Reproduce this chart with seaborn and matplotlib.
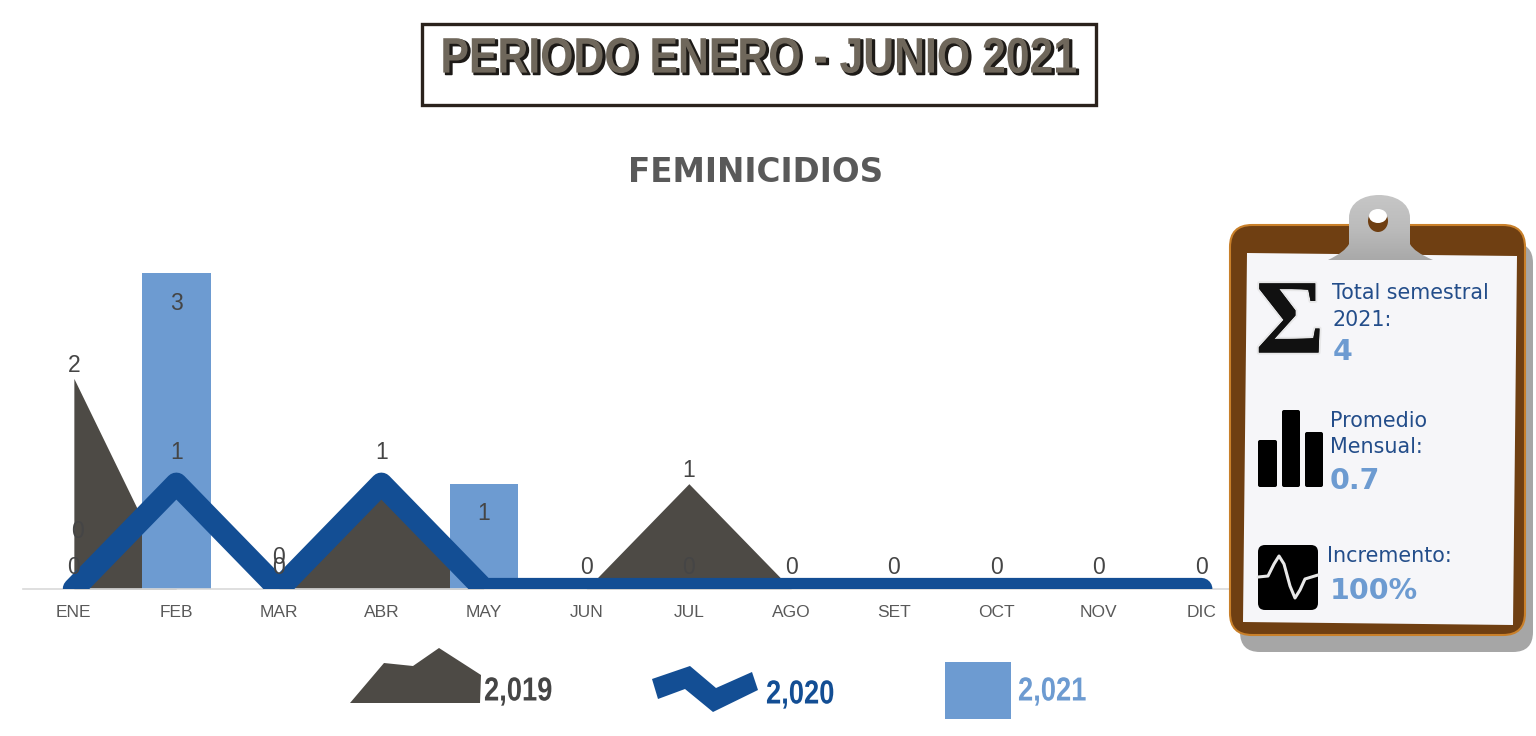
import numpy as np
import pandas as pd
import matplotlib
matplotlib.use('Agg')
import matplotlib.pyplot as plt
import matplotlib.patheffects as pe
from matplotlib.patches import FancyBboxPatch, Polygon, Rectangle, Ellipse, PathPatch
from matplotlib.path import Path
from matplotlib.transforms import Affine2D
from matplotlib.colors import LinearSegmentedColormap, to_rgba
import seaborn as sns

months = ['ENE', 'FEB', 'MAR', 'ABR', 'MAY', 'JUN', 'JUL', 'AGO', 'SET', 'OCT', 'NOV', 'DIC']
values_2019 = [2, 0, 0, 1, 0, 0, 1, 0, 0, 0, 0, 0]
values_2020 = [0, 1, 0, 1, 0, 0, 0, 0, 0, 0, 0, 0]
values_2021 = [0, 3, 0, 0, 1, 0, 0, 0, 0, 0, 0, 0]
legend_labels = ['2,019', '2,020', '2,021']

C_AREA = '#4d4a45'
C_LINE = '#134e94'
C_BAR = '#6d9bd1'
C_LABEL = '#454545'
C_TICK = '#595959'
W, H = 1536, 736


class HScale(pe.AbstractPathEffect):
    """Squeeze text sideways around a pixel x, the reference uses condensed type."""

    def __init__(self, x0, sx, offset=(0, 0)):
        super().__init__(offset)
        self.x0 = x0
        self.sx = sx

    def _transform(self, affine):
        squeeze = Affine2D().translate(-self.x0, 0).scale(self.sx, 1).translate(self.x0, 0)
        return affine + squeeze + Affine2D().translate(*self._offset)

    def draw_path(self, renderer, gc, tpath, affine, rgbFace=None):
        renderer.draw_path(gc, tpath, self._transform(affine), rgbFace)


class HScaleStroke(HScale):
    def __init__(self, x0, sx, offset, linewidth, foreground):
        super().__init__(x0, sx, offset)
        self.linewidth = linewidth
        self.foreground = foreground

    def draw_path(self, renderer, gc, tpath, affine, rgbFace=None):
        gc0 = renderer.new_gc()
        gc0.copy_properties(gc)
        gc0.set_linewidth(self.linewidth)
        gc0.set_foreground(self.foreground)
        renderer.draw_path(gc0, tpath, self._transform(affine), to_rgba(self.foreground))
        gc0.restore()


sns.set_theme(style='white')
plt.rcParams['font.family'] = ['Liberation Sans', 'DejaVu Sans']

fig = plt.figure(figsize=(W / 100, H / 100), dpi=100, facecolor='white')

# main chart, placed in pixels: baseline at y=589, 105 px per unit
ax = fig.add_axes([22.6 / W, (H - 589) / H, 1230 / W, 337 / H])
df = pd.DataFrame({'mes': months, 'a2019': values_2019, 'a2020': values_2020, 'a2021': values_2021})
pos = np.arange(len(months))

ax.fill_between(pos, df['a2019'], 0, color=C_AREA, linewidth=0, zorder=1)
sns.barplot(data=df, x='mes', y='a2021', color=C_BAR, width=0.67, saturation=1,
            errorbar=None, linewidth=0, ax=ax, zorder=2)
sns.lineplot(x=pos, y=df['a2020'], color=C_LINE, linewidth=16, sort=False, errorbar=None,
             solid_capstyle='round', solid_joinstyle='round', ax=ax, zorder=3)

ax.set_xlim(-0.5, 11.5)
ax.set_ylim(0, 3.2)
ax.set_xlabel('')
ax.set_ylabel('')
ax.set_yticks([])
ax.set_xticks(pos)
ax.set_xticklabels(months, fontsize=12.5, color=C_TICK)
ax.tick_params(axis='x', length=0, pad=11.5)
for side in ['top', 'left', 'right']:
    ax.spines[side].set_visible(False)
ax.spines['bottom'].set_color('#d9d9d9')
ax.spines['bottom'].set_linewidth(1.2)


def data_labels(values, off_pos, off_zero, skip=()):
    for i, v in enumerate(values):
        off = off_pos if v > 0 else off_zero
        if off is None or months[i] in skip:
            continue
        ax.annotate(str(v), (i, v), xytext=(0, off), textcoords='offset pixels',
                    ha='center', va='center', fontsize=16.5, color=C_LABEL, zorder=4,
                    annotation_clip=False)


data_labels(values_2021, -30, None)
for i in [0, 2]:
    ax.annotate('0', (i, 0), xytext=(4 if i == 0 else 0, 57 if i == 0 else 31),
                textcoords='offset pixels', ha='center', va='center', fontsize=16.5,
                color=C_LABEL, zorder=4, annotation_clip=False)
data_labels(values_2020, 31, 22, skip=['MAY'])
data_labels(values_2019, 13, None, skip=['ABR'])

# overlay in pixel coordinates for the title, legend and clipboard
ov = fig.add_axes([0, 0, 1, 1], facecolor='none', zorder=5)
ov.axis('off')

# title box
ov.add_patch(Rectangle((421.5, 23.5), 674, 81, fill=False, edgecolor='#2a221c', linewidth=2.4))
ov.text(441, 60, 'PERIODO ENERO - JUNIO 2021', ha='left', va='center', fontsize=36,
        fontweight='bold', color='#6f675b',
        path_effects=[HScaleStroke(441, 0.855, (1.8, -1.4), 1.2, '#1d1a17'), HScale(441, 0.855, (-0.6, 0.4))])
ov.text(756, 172, 'FEMINICIDIOS', ha='center', va='center', fontsize=23.5,
        fontweight='bold', color='#595959', family='DejaVu Sans')

# legend
ov.add_patch(Polygon([(350, 703), (384, 663), (413, 666), (439, 648), (481, 675), (480, 703)],
                     closed=True, facecolor=C_AREA, edgecolor='none'))
ov.add_patch(Polygon([(652, 679), (690, 666), (716, 688), (752, 672), (758, 690), (713, 712),
                      (685, 689), (658, 699)], closed=True, facecolor=C_LINE, edgecolor='none'))
ov.add_patch(Rectangle((945, 662), 66, 57, facecolor=C_BAR, edgecolor='none'))
for x, y, lab, col in zip([484, 766, 1018], [692, 695, 692], legend_labels, ['#454545', C_LINE, C_BAR]):
    ov.text(x, y, lab, ha='left', va='center', fontsize=24, fontweight='bold', color=col,
            path_effects=[HScale(x, 0.82)])

# clipboard
ov.add_patch(FancyBboxPatch((1250, 253), 273, 389, boxstyle='round,pad=10,rounding_size=20',
                            facecolor='#a6a6a6', edgecolor='none'))
ov.add_patch(FancyBboxPatch((1245, 240), 265, 380, boxstyle='round,pad=15,rounding_size=22',
                            facecolor='#6f3f12', edgecolor='#c9802a', linewidth=1.5))
ov.add_patch(Polygon([(1247, 253), (1517, 256), (1513, 625), (1243, 622)], closed=True,
                     facecolor='#f6f6f9', edgecolor='none'))

clip_path = Path([(1328, 260), (1345, 252), (1349, 244), (1349, 218), (1349, 202), (1364, 195), (1379, 195),
                  (1394, 195), (1410, 202), (1410, 218), (1410, 244), (1414, 252), (1433, 260), (1328, 260)],
                 [Path.MOVETO, Path.CURVE3, Path.CURVE3, Path.LINETO, Path.CURVE4, Path.CURVE4, Path.CURVE4,
                  Path.CURVE4, Path.CURVE4, Path.CURVE4, Path.LINETO, Path.CURVE3, Path.CURVE3, Path.CLOSEPOLY])
clip_patch = PathPatch(clip_path, facecolor='none', edgecolor='none', transform=ov.transData)
ov.add_patch(clip_patch)
grad = LinearSegmentedColormap.from_list('clip', ['#c6c6c6', '#bcbcbc', '#a9a9a9'])
im = ov.imshow(np.linspace(0, 1, 64).reshape(-1, 1), cmap=grad, extent=(1328, 1433, 260, 195),
               aspect='auto', zorder=1.5)
im.set_clip_path(clip_patch)
ov.add_patch(Ellipse((1378, 221), 20, 22, facecolor='#6f3f12', edgecolor='none', zorder=2))
ov.add_patch(Ellipse((1378, 216), 18, 14, facecolor='white', edgecolor='none', zorder=2))
ov.set_xlim(0, W)
ov.set_ylim(H, 0)

# icons
ov.text(1290, 327, 'Σ', ha='center', va='center', fontsize=76, fontweight='bold', color='#111111',
        family='Liberation Serif',
        path_effects=[pe.withStroke(linewidth=3, foreground='#dddddd', alpha=0.6), pe.Normal()])
for x0, x1, top in [(1258, 1277, 440), (1282, 1300, 410), (1305, 1323, 432)]:
    ov.add_patch(FancyBboxPatch((x0 + 2, top + 2), x1 - x0 - 4, 487 - top - 4,
                                boxstyle='round,pad=2,rounding_size=2', facecolor='black', edgecolor='none'))
ov.add_patch(FancyBboxPatch((1263, 550), 50, 55, boxstyle='round,pad=5,rounding_size=7',
                            facecolor='black', edgecolor='none'))
ov.plot([1258, 1268, 1274, 1279, 1284, 1290, 1295, 1300, 1305, 1318],
        [577, 576, 564, 556, 564, 586, 598, 590, 579, 575],
        color='#e8e8e8', linewidth=2.2, solid_joinstyle='round')

# clipboard text
C_TXT = '#234d8a'
sans = ['DejaVu Sans']
for x, y, s in [(1332, 293, 'Total semestral'), (1332, 320, '2021:'), (1330, 421, 'Promedio'),
                (1330, 447, 'Mensual:'), (1327, 556, 'Incremento:')]:
    ov.text(x, y, s, ha='left', va='center', fontsize=14.9, color=C_TXT, family=sans)
for x, y, s in [(1333, 352, '4'), (1330, 481, '0.7'), (1330, 591, '100%')]:
    ov.text(x, y, s, ha='left', va='center', fontsize=20.5, fontweight='bold', color=C_BAR, family=sans)

fig.savefig('out.png', dpi=100)
